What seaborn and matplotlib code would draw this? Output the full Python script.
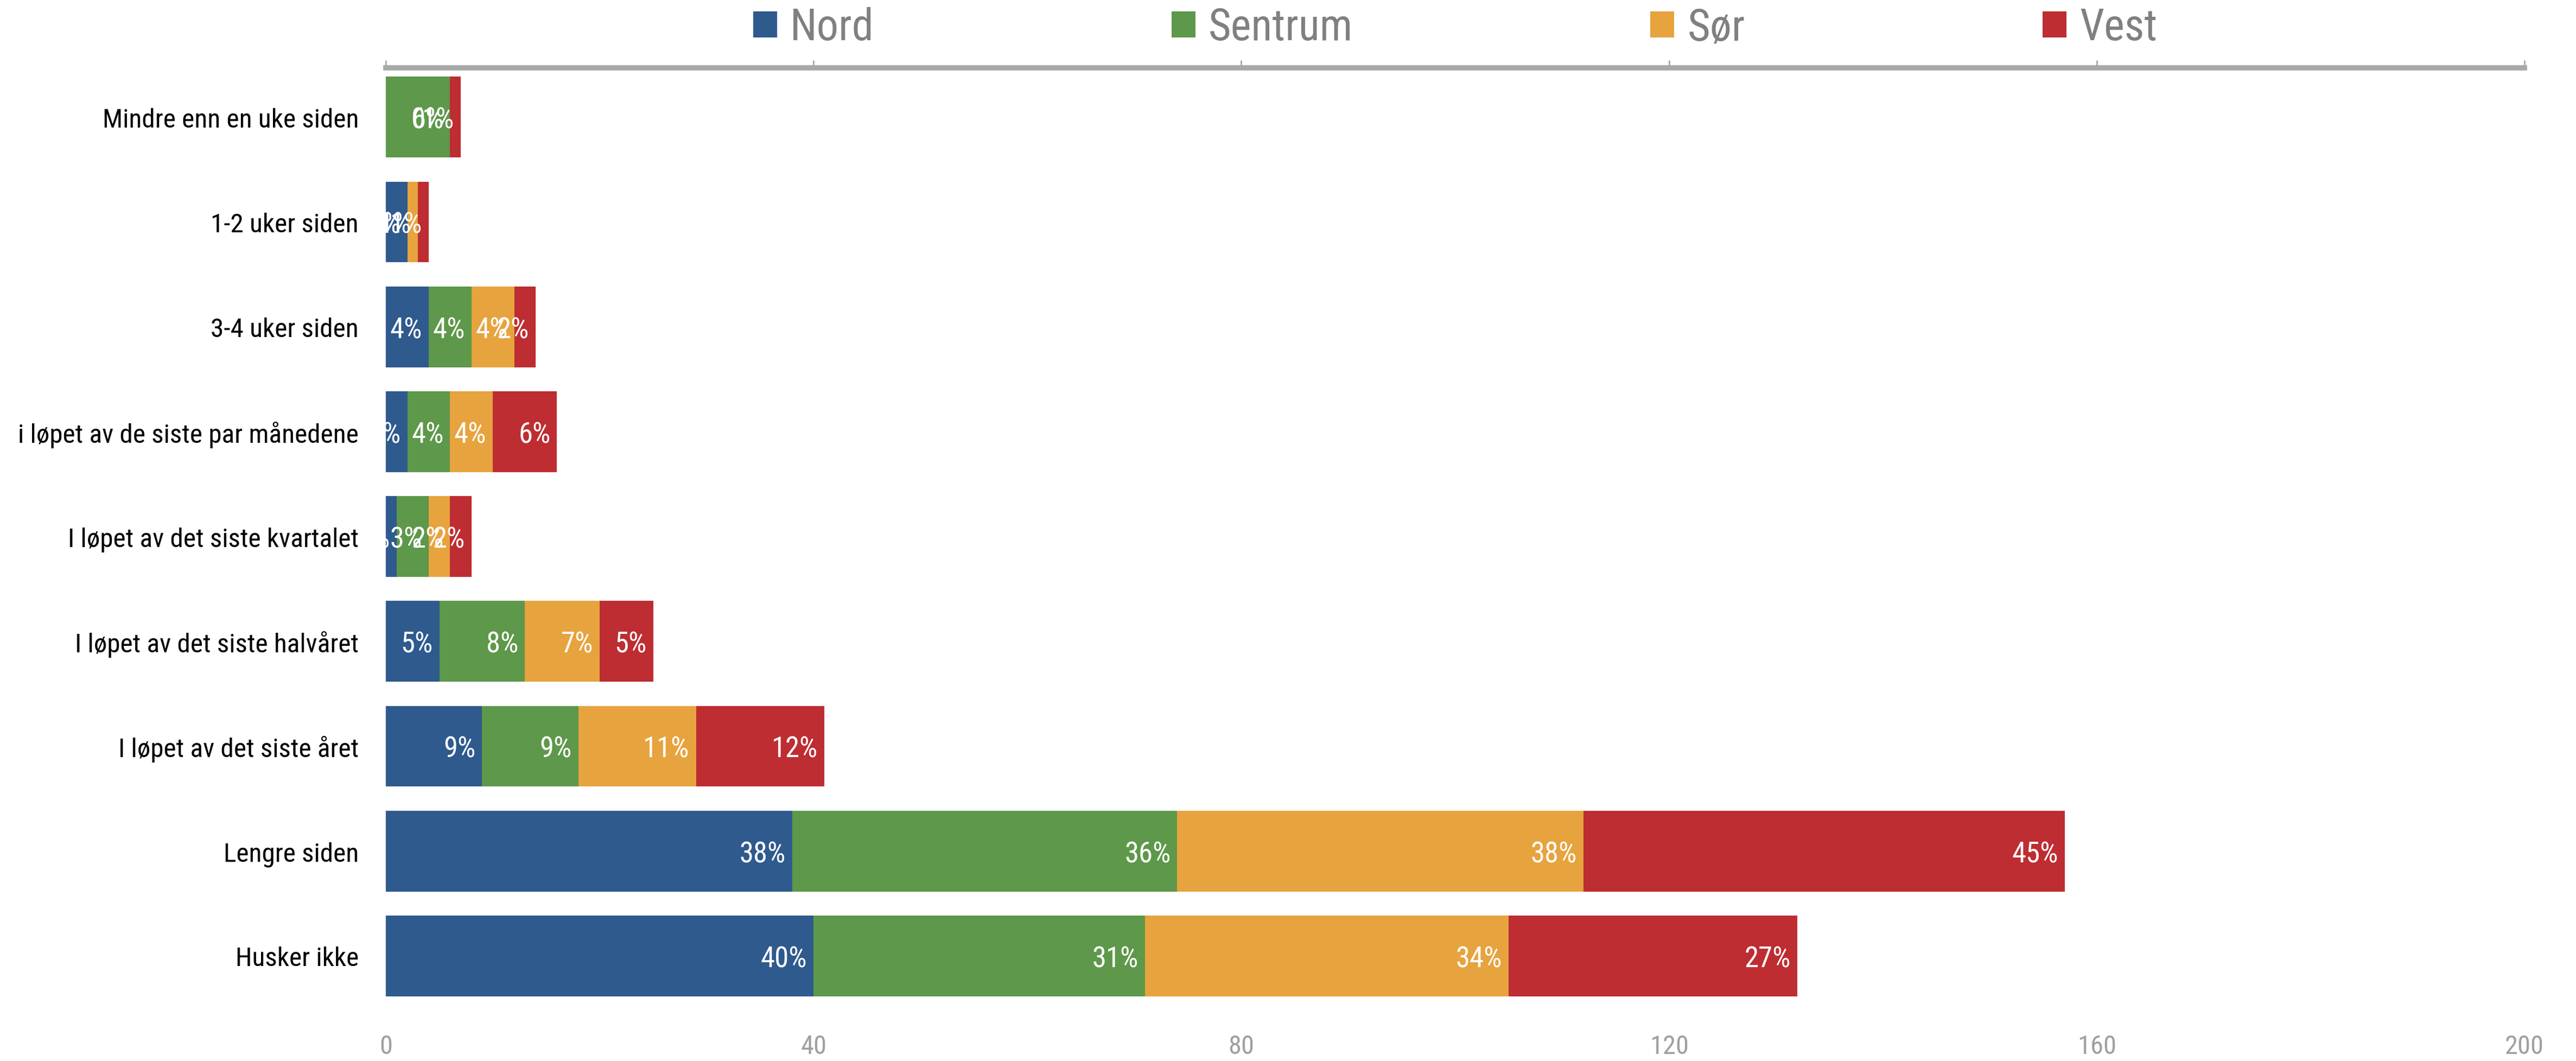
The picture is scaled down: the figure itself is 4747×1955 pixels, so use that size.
import matplotlib
matplotlib.use("Agg")
import matplotlib.pyplot as plt
import seaborn as sns
from matplotlib import font_manager

# Data
categories = [
    "Mindre enn en uke siden",
    "1-2 uker siden",
    "3-4 uker siden",
    "i løpet av de siste par månedene",
    "I løpet av det siste kvartalet",
    "I løpet av det siste halvåret",
    "I løpet av det siste året",
    "Lengre siden",
    "Husker ikke",
]
series = ["Nord", "Sentrum", "Sør", "Vest"]
nord = [0, 2, 4, 2, 1, 5, 9, 38, 40]
sentrum = [6, 0, 4, 4, 3, 8, 9, 36, 31]
sor = [0, 1, 4, 4, 2, 7, 11, 38, 34]
vest = [1, 1, 2, 6, 2, 5, 12, 45, 27]
x_ticks = [0, 40, 80, 120, 160, 200]

colors = ["#2F5A8D", "#5E984A", "#E7A33E", "#BD2D32"]
axis_grey = "#A6A9A8"


def pick_font(names):
    for n in names:
        try:
            font_manager.findfont(n, fallback_to_default=False)
            return n
        except ValueError:
            pass
    return "DejaVu Sans"


sns.set_style("white")
font = pick_font(["Roboto Condensed", "Liberation Sans Narrow", "Liberation Sans"])
plt.rcParams["font.family"] = [font, "DejaVu Sans"]

fig = plt.figure(figsize=(47.47, 19.56), dpi=100)
ax = fig.add_axes([0.1498, 0.0496, 0.8302, 0.886])

left = [0] * len(categories)
for name, vals, col in zip(series, [nord, sentrum, sor, vest], colors):
    sns.barplot(x=vals, y=categories, order=categories, orient="h", color=col,
                saturation=1, width=0.77, left=left, label=name, ax=ax, linewidth=0)
    # inside-end labels, clipped at the axes like the original
    for i, (v, l) in enumerate(zip(vals, left)):
        ax.text(l + v - 0.6, i, f"{v}%", ha="right", va="center_baseline",
                color="white", fontsize=38, clip_on=True)
    left = [a + b for a, b in zip(left, vals)]

ax.set_xlim(0, 200)
ax.set_ylim(8.5, -0.47)
ax.set_xticks(x_ticks)
ax.set_xlabel("")
ax.set_ylabel("")

for s in ["left", "right", "bottom"]:
    ax.spines[s].set_visible(False)
ax.spines["top"].set_visible(True)
ax.spines["top"].set_color(axis_grey)
ax.spines["top"].set_linewidth(7)

ax.tick_params(axis="x", top=True, bottom=False, labeltop=False, labelbottom=True,
               direction="out", length=10, width=2, color=axis_grey,
               labelsize=35, labelcolor="#A0A0A0", pad=24)
ax.tick_params(axis="y", length=0, labelsize=35.5, labelcolor="black", pad=36)

ax.legend(loc="lower center", bbox_to_anchor=(0.5, 1.02), ncol=4, frameon=False,
          fontsize=58, labelcolor="#808080", handlelength=0.55, handleheight=0.55,
          handletextpad=0.3, columnspacing=6.8, borderaxespad=0, borderpad=0)

fig.savefig("out.png", dpi=100)
